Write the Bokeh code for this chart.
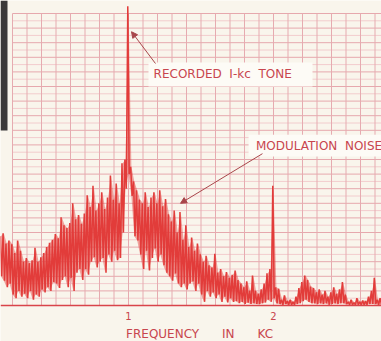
import numpy as np
from bokeh.plotting import figure
from bokeh.models import Range1d, Label, Arrow, NormalHead
from bokeh.core.properties import value
from bokeh.embed import file_html
from bokeh.resources import INLINE

# Swept-analyzer trace: one upper and one lower excursion per 0.02 kc step,
# starting at 0.12 kc. Levels are chart divisions above the baseline.
sweep_start_khz = 0.12
sweep_step_khz = 0.02

peak_level = [
    9.5, 9.9, 8.5, 8.9, 8.4, 7.2, 8.9, 7.5, 6.0, 6.5,
    5.8, 6.2, 7.9, 6.0, 6.6, 7.2, 8.0, 8.6, 9.0, 9.8,
    9.2, 12.1, 11.0, 10.6, 11.3, 14.0, 11.8, 12.4, 11.2, 12.6,
    15.1, 13.5, 16.4, 13.0, 14.0, 15.5, 13.2, 14.8, 17.8, 14.5,
    16.7, 14.0, 19.5, 20.0, 41.0, 19.0, 17.0, 15.8, 14.5, 14.0,
    15.5, 13.5, 14.8, 15.5, 14.0, 15.8, 13.6, 14.6, 12.5, 11.5,
    13.0, 10.0, 12.8, 9.0, 11.0, 8.0, 9.3, 7.5, 8.5, 7.0,
    6.0, 6.8, 5.5, 5.2, 7.1, 4.5, 5.0, 4.0, 4.6, 3.8,
    4.2, 4.8, 3.5, 3.0, 2.5, 3.3, 2.0, 4.1, 2.0, 1.6,
    2.2, 3.0, 4.4, 5.0, 16.4, 2.5, 2.3, 0.8, 1.4, 0.6,
    0.8, 0.5, 1.2, 2.4, 3.2, 4.1, 3.5, 2.6, 2.4, 1.8,
    2.2, 1.5, 2.0, 1.2, 1.8, 2.5, 1.6, 2.2, 3.2, 1.5,
    0.5, 0.8, 0.4, 1.0, 0.5, 0.7, 0.6, 1.2, 2.0, 3.8,
    0.8, 1.0,
]

floor_level = [
    4.0, 3.4, 2.5, 3.0, 1.5, 1.0, 2.0, 1.2, 1.6, 1.0,
    2.0, 0.8, 1.5, 1.2, 2.2, 1.8, 2.5, 2.0, 3.2, 3.0,
    2.4, 3.5, 4.0, 2.5, 3.8, 2.0, 4.5, 5.0, 3.5, 5.0,
    4.2, 6.0, 6.6, 5.2, 6.0, 6.5, 4.5, 7.0, 6.0, 7.5,
    6.2, 6.5, 10.0, 16.0, 18.0, 15.0, 9.5, 8.9, 7.0, 5.0,
    7.5, 4.8, 6.5, 7.8, 6.0, 7.0, 5.5, 4.5, 4.0, 3.4,
    4.4, 3.0, 2.5, 3.0, 2.2, 3.0, 3.3, 2.0, 3.0, 1.5,
    0.5, 2.0, 1.2, 1.8, 1.0, 1.5, 0.5, 1.2, 0.4, 1.0,
    0.5, 0.6, 0.3, 0.5, 0.2, 0.4, 0.2, 0.3, 0.2, 0.2,
    0.3, 0.4, 0.8, 0.5, 1.0, 0.3, 0.2, 0.1, 0.2, 0.1,
    0.1, 0.1, 0.2, 0.3, 0.6, 0.8, 0.5, 0.3, 0.3, 0.2,
    0.3, 0.2, 0.3, 0.1, 0.2, 0.3, 0.2, 0.3, 0.3, 0.2,
    0.1, 0.1, 0.1, 0.1, 0.1, 0.1, 0.1, 0.2, 0.2, 0.2,
    0.1, 0.1,
]

tick_khz = [1, 2]
tick_labels = ["1", "2"]
NB = "\u00a0"
axis_title = "FREQUENCY" + NB * 6 + "IN" + NB * 6 + "KC"
tone_label = "RECORDED" + NB * 2 + "I-kc" + NB * 2 + "TONE"
noise_label = "MODULATION" + NB * 2 + "NOISE"

PAPER = "#f9f5ec"
INK = "#c8464e"
TRACE = "#e23c3a"

# chart scale: 145 px per kc, 7.3 px per division, baseline 305 px from top
W, H = 381, 341
PX_PER_KC, PX_PER_DIV, BASE_PX = 145.0, 7.3, 305.0
x0 = 1.0 - 128.0 / PX_PER_KC
x1 = x0 + W / PX_PER_KC
y1 = BASE_PX / PX_PER_DIV
y0 = y1 - H / PX_PER_DIV

p = figure(width=W, height=H, output_backend="svg", toolbar_location=None,
           x_range=Range1d(x0, x1), y_range=Range1d(y0, y1),
           x_axis_location=None, y_axis_location=None, min_border=0)
p.grid.visible = False
p.outline_line_color = None
p.background_fill_color = PAPER
p.border_fill_color = PAPER

# recorder paper ruling
h_div = np.arange(0, 41)
p.segment(x0=0.2, y0=h_div[h_div % 2 == 1], x1=x1, y1=h_div[h_div % 2 == 1],
          line_color="#f2cccd", line_width=1)
p.segment(x0=0.2, y0=h_div[h_div % 2 == 0], x1=x1, y1=h_div[h_div % 2 == 0],
          line_color="#e6a8ad", line_width=1)
v_div = np.round(np.arange(0.2, 2.71, 0.1), 2)
p.segment(x0=v_div, y0=0, x1=v_div, y1=40, line_color="#e6abb0", line_width=1)

# edge of the mounting card
p.quad(left=x0, right=x0 + 7 / PX_PER_KC, bottom=y1 - 130 / PX_PER_DIV, top=y1,
       fill_color="#3b3939", line_color=None)

# callout boxes
p.quad(left=[1.138, 1.828], right=[2.269, x1], bottom=[30.0, 20.4], top=[33.3, 23.4],
       fill_color="#fdfbf6", line_color=None)

# trace: the pen swings between upper and lower excursion in every step
f = sweep_start_khz + sweep_step_khz * np.arange(len(peak_level))
p.varea(x=f, y1=floor_level, y2=peak_level, fill_color=TRACE, fill_alpha=0.45)
tx = np.column_stack([f - 0.005, f + 0.005]).ravel()
ty = np.column_stack([peak_level, floor_level]).ravel()
p.line(tx, ty, line_color=TRACE, line_width=1.5)
p.segment(x0=x0, y0=0, x1=x1, y1=0, line_color="#d9444a", line_width=1.6)

# annotations
p.add_layout(Label(x=1.173, y=31.65, text=tone_label, text_font="DejaVu Sans",
                   text_font_size="12px", text_color=INK, text_baseline="middle"))
p.add_layout(Label(x=1.879, y=21.9, text=noise_label, text_font="DejaVu Sans",
                   text_font_size="12px", text_color=INK, text_baseline="middle"))
p.add_layout(Arrow(end=NormalHead(size=6, fill_color="#a8464a", line_color="#a8464a"),
                   x_start=1.186, y_start=33.15, x_end=1.021, y_end=37.5,
                   line_color="#a8464a", line_width=1))
p.add_layout(Arrow(end=NormalHead(size=6, fill_color="#a8464a", line_color="#a8464a"),
                   x_start=1.924, y_start=20.8, x_end=1.359, y_end=14.0,
                   line_color="#a8464a", line_width=1))

p.text(x=tick_khz, y=[-1.5, -1.5], text=tick_labels, text_align="center",
       text_baseline="middle", text_font=value("DejaVu Sans"),
       text_font_size="10px", text_color=INK)
p.text(x=[1.49], y=[-3.85], text=[axis_title], text_align="center",
       text_baseline="middle", text_font=value("DejaVu Sans"),
       text_font_size="12px", text_color=INK)

open("out.html", "w").write(file_html(p, INLINE))
